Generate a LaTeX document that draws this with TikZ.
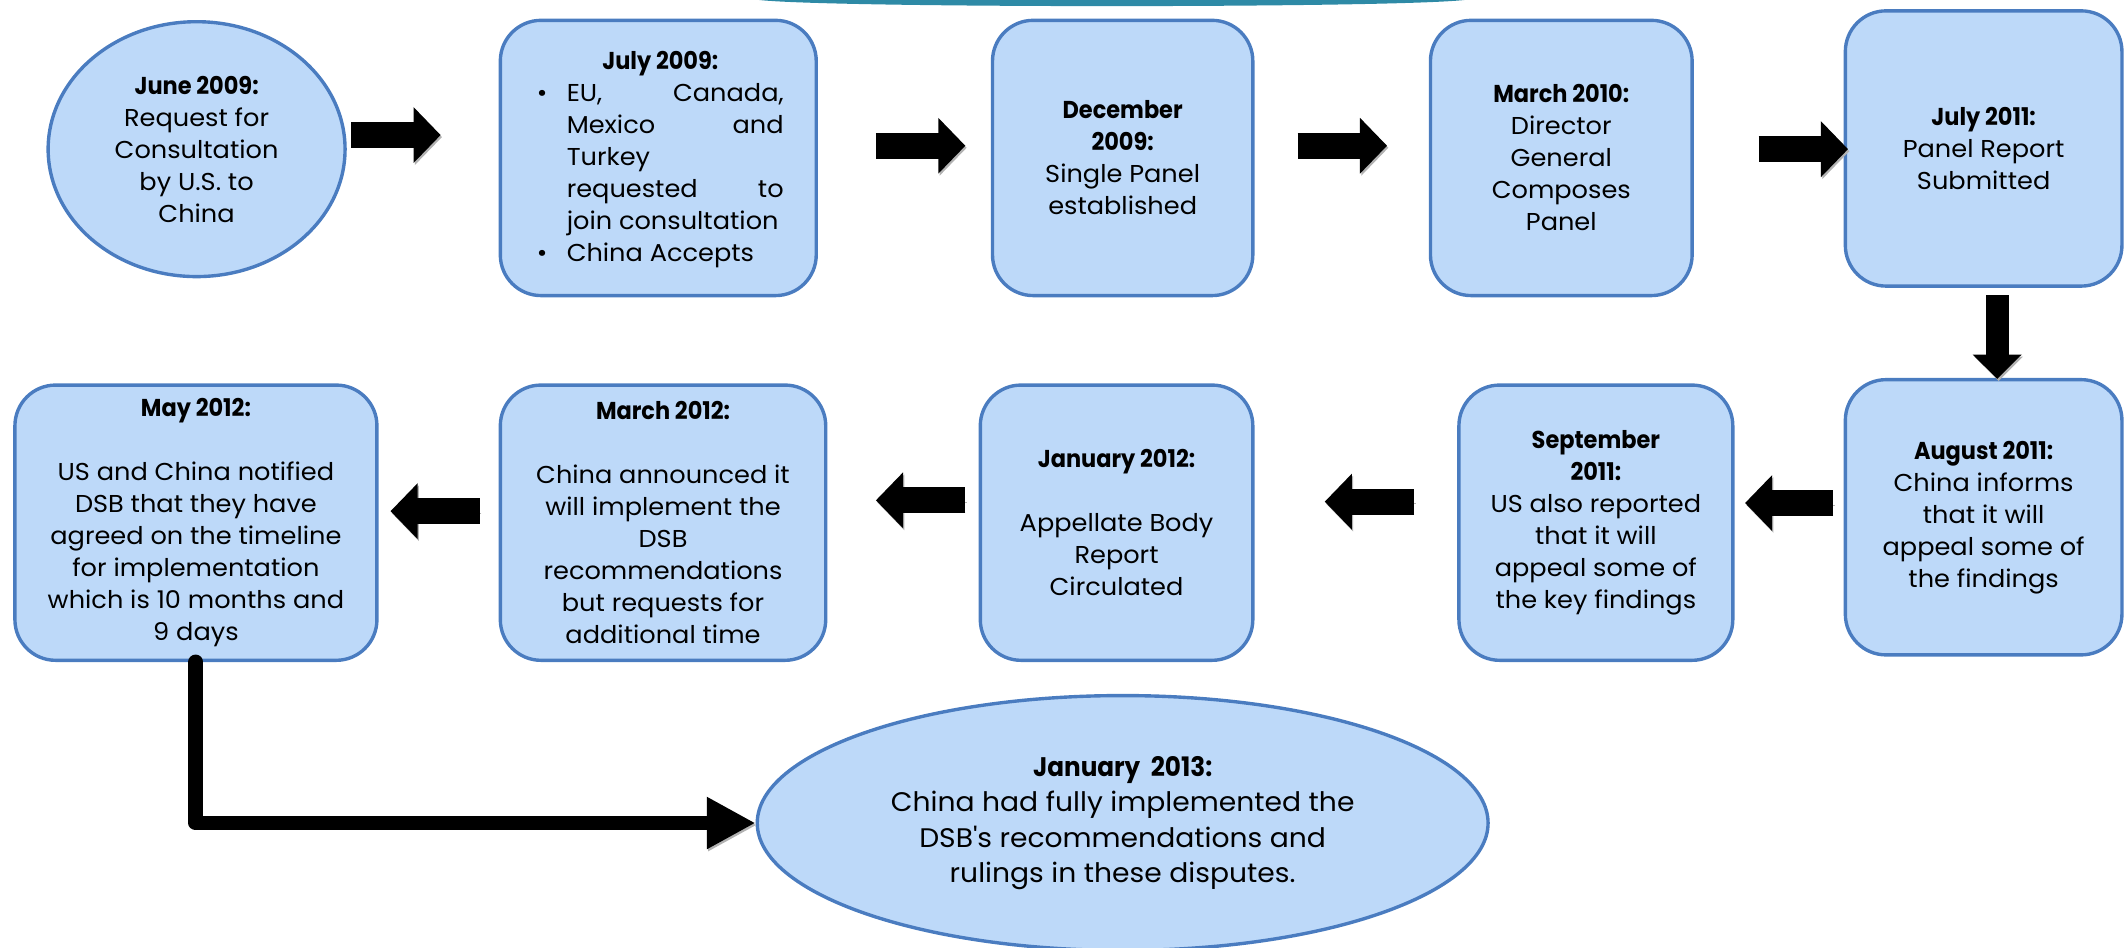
\documentclass[tikz,border=0pt]{standalone}
\usepackage{fontspec}
\setmainfont{Poppins}[FakeStretch=1.05]
\newfontfamily\ttlfont{Poppins}[FakeStretch=0.92]
\newcommand\ttl[1]{{\ttlfont\bfseries #1}}
\usetikzlibrary{arrows.meta,shapes.geometric,calc}
\definecolor{boxfill}{HTML}{BDD9F9}
\definecolor{boxline}{HTML}{4A7CC0}
\definecolor{tealbar}{HTML}{2E8AA6}
\begin{document}
\begin{tikzpicture}[x=1pt,y=-1pt,
  box/.style={draw=boxline, fill=boxfill, line width=2.5pt, rounded corners=30pt, inner sep=0pt, minimum height=203pt},
  oval/.style={draw=boxline, fill=boxfill, line width=2.5pt, ellipse, inner sep=0pt},
  txt/.style={font=\fontsize{18}{23.6}\selectfont, align=center, text=black},
  bigtxt/.style={font=\fontsize{19.8}{26}\selectfont, align=center, text=black},
  shade/.style={preaction={draw=black!30, transform canvas={xshift=1pt,yshift=-1.5pt}}},
  blk/.style={shade, draw=black, line width=19pt, -{Triangle[length=20pt,width=40pt]}},
  dblk/.style={shade, draw=black, line width=17pt, -{Triangle[length=18pt,width=35pt]}},
  elbow/.style={shade, draw=black, line width=11pt, line cap=round, line join=round, -{Triangle[length=36pt,width=36pt]}}]
\useasboundingbox (0,0) rectangle (1568,699);

% top decorative sliver
\fill[tealbar] (560,0) .. controls (615,6) and (1025,6) .. (1080,0) -- cycle;

% ---- top row ----
\node[oval, minimum width=219pt, minimum height=188pt, txt] (e1) at (145,110) {\ttl{June 2009:}\\Request for\\Consultation\\by U.S. to\\China};

\node[box, minimum width=233pt] (jul09) at (485.5,116.5) {};
\node[txt, align=left] (jul09t) at (487,117.5) {%
\makebox[182pt][c]{\ttl{July 2009:}}\\
\makebox[22pt][l]{\textbullet}\makebox[160pt][s]{EU, Canada,}\\
\makebox[22pt][l]{}\makebox[160pt][s]{Mexico and}\\
\makebox[22pt][l]{}\makebox[160pt][l]{Turkey}\\
\makebox[22pt][l]{}\makebox[160pt][s]{requested to}\\
\makebox[22pt][l]{}\makebox[160pt][l]{join consultation}\\
\makebox[22pt][l]{\textbullet}\makebox[160pt][l]{China Accepts}};

\node[box, minimum width=192pt, txt] (dec09) at (828,116.5) {\ttl{December}\\\ttl{2009:}\\Single Panel\\established};

\node[box, minimum width=193pt, txt] (mar10) at (1151.5,116.5) {\ttl{March 2010:}\\Director\\General\\Composes\\Panel};

\node[box, minimum width=204pt, txt] (jul11) at (1463,109.5) {\ttl{July 2011:}\\Panel Report\\Submitted};

% ---- bottom row ----
\node[box, minimum width=204pt, txt] (aug11) at (1463,381.5) {\ttl{August 2011:}\\China informs\\that it will\\appeal some of\\the findings};

\node[box, minimum width=202pt, txt] (sep11) at (1177,385.5) {\ttl{September}\\\ttl{2011:}\\US also reported\\that it will\\appeal some of\\the key findings};

\node[box, minimum width=201pt, txt] (jan12) at (823.5,385.5) {\ttl{January 2012:}\\[23.6pt]Appellate Body\\Report\\Circulated};

\node[box, minimum width=240pt, txt] (mar12) at (489,385.5) {\ttl{March 2012:}\\[23.6pt]China announced it\\will implement the\\DSB\\recommendations\\but requests for\\additional time};

\node[box, minimum width=267pt, txt] (may12) at (144.5,385.5) {\ttl{May 2012:}\\[23.6pt]US and China notified\\DSB that they have\\agreed on the timeline\\for implementation\\which is 10 months and\\9 days};

\node[oval, minimum width=539pt, minimum height=188pt, bigtxt] (e2) at (828,607) {\ttl{January\ \ 2013:}\\China had fully implemented the\\DSB\textquotesingle s recommendations and\\rulings in these disputes.};

% ---- arrows ----
\coordinate (a1s) at (259,99.6);  \coordinate (a1e) at (325,99.6);
\coordinate (a2s) at (646,107.5); \coordinate (a2e) at (712,107.5);
\coordinate (a3s) at (957,107.5); \coordinate (a3e) at (1023,107.5);
\coordinate (a4s) at (1297,110);  \coordinate (a4e) at (1363,110);
\coordinate (b1s) at (1352,371);  \coordinate (b1e) at (1287,371);
\coordinate (b2s) at (1043,370);  \coordinate (b2e) at (977,370);
\coordinate (b3s) at (712,369);   \coordinate (b3e) at (646,369);
\coordinate (b4s) at (354,377);   \coordinate (b4e) at (288,377);
\coordinate (ds) at (1473,217.6); \coordinate (de) at (1473,279.5);

\draw[blk] (a1s) -- (a1e);
\draw[blk] (a2s) -- (a2e);
\draw[blk] (a3s) -- (a3e);
\draw[blk] (a4s) -- (a4e);
\draw[blk] (b1s) -- (b1e);
\draw[blk] (b2s) -- (b2e);
\draw[blk] (b3s) -- (b3e);
\draw[blk] (b4s) -- (b4e);
\draw[dblk] (ds) -- (de);
\draw[elbow] (may12.south) |- (e2.west);
\end{tikzpicture}
\end{document}
